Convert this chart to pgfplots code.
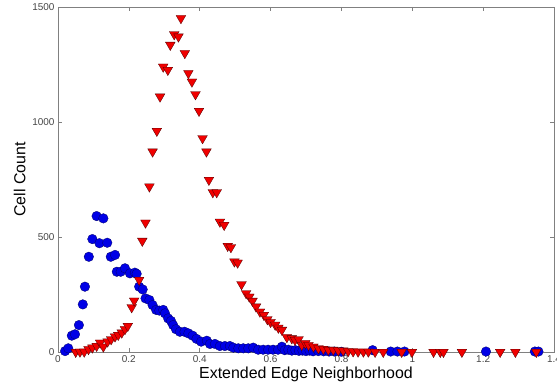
\documentclass[border=0pt]{standalone}
\usepackage{pgfplots}
\pgfplotsset{compat=1.18}
\usepackage{fontspec}
\setmainfont{Liberation Sans}
\definecolor{axgray}{RGB}{128,128,128}
\definecolor{ticktext}{RGB}{70,70,70}
\begin{document}
\begin{tikzpicture}
\begin{axis}[
  scale only axis,
  width=496bp, height=345bp,
  xmin=0, xmax=1.4, ymin=0, ymax=1500,
  xtick={0,0.2,0.4,0.6,0.8,1,1.2,1.4},
  ytick={0,500,1000,1500},
  axis line style={axgray, line width=0.6pt},
  every tick/.style={axgray, line width=0.6pt},
  tick align=inside,
  major tick length=4bp,
  tick label style={font=\fontsize{10}{12}\selectfont, text=ticktext},
  /pgf/number format/assume math mode=true,
  /pgf/number format/1000 sep={},
  xlabel={Extended Edge Neighborhood},
  ylabel={Cell Count},
  label style={font=\fontsize{16}{18}\selectfont},
  xlabel style={yshift=2bp},
  ylabel style={yshift=0bp},
  clip=false,
]
\addplot[only marks, mark=*, mark size=4.8bp, mark options={fill={rgb,255:red,0;green,0;blue,230}, draw=black!60!blue, line width=0.3pt}] coordinates {
(0.020,4) (0.029,16) (0.039,71) (0.048,77) (0.059,117) (0.070,207) (0.076,284)
(0.087,414) (0.097,491) (0.109,591) (0.117,473) (0.128,581) (0.139,475)
(0.149,414) (0.161,422) (0.166,349) (0.177,349) (0.189,364) (0.203,342)
(0.217,345) (0.222,340) (0.229,284) (0.239,272) (0.247,233) (0.258,226) (0.267,204)
(0.277,183) (0.286,180) (0.297,183) (0.302,168) (0.311,146) (0.319,135)
(0.325,117) (0.333,99) (0.344,88) (0.357,88) (0.368,81) (0.380,71)
(0.391,57) (0.404,45) (0.420,49) (0.429,35) (0.443,35) (0.457,26)
(0.471,26) (0.485,26) (0.495,19) (0.509,16) (0.523,16) (0.537,16)
(0.551,19) (0.565,10) (0.579,10) (0.593,10) (0.607,10) (0.621,10)
(0.632,23) (0.640,8) (0.650,10) (0.660,6) (0.670,8) (0.680,5) (0.690,6)
(0.700,4) (0.710,6) (0.720,3) (0.735,4) (0.750,3) (0.765,2) (0.780,2)
(0.800,1) (0.888,8) (0.939,2) (0.958,2) (0.978,2) (1.208,2) (1.346,2) (1.356,2)
};
\addplot[only marks, mark=triangle*, mark size=5.6bp, mark options={rotate=180, fill={rgb,255:red,240;green,0;blue,0}, draw=black!70!red, line width=0.3pt}] coordinates {
(0.050,0) (0.062,1) (0.074,1) (0.086,12) (0.097,19) (0.109,26) (0.119,40)
(0.128,23) (0.140,45) (0.150,55) (0.161,67) (0.170,74) (0.180,84) (0.189,99)
(0.197,113) (0.208,194) (0.215,223) (0.229,313) (0.238,483) (0.247,562)
(0.258,719) (0.267,871) (0.279,961) (0.288,1110) (0.297,1240) (0.310,1226)
(0.317,1335) (0.328,1381) (0.340,1371) (0.347,1451) (0.358,1299) (0.368,1212)
(0.378,1175) (0.388,1120) (0.398,1048) (0.408,929) (0.419,871) (0.426,748)
(0.437,694) (0.448,694) (0.457,566) (0.469,552) (0.479,461) (0.488,455)
(0.498,393) (0.507,388) (0.518,294) (0.531,255) (0.540,240) (0.549,222)
(0.559,197) (0.570,175) (0.581,161) (0.591,142) (0.600,130) (0.613,118)
(0.622,105) (0.632,96) (0.646,64) (0.660,59) (0.669,52) (0.679,55)
(0.688,30) (0.698,38) (0.707,30) (0.721,23) (0.735,16) (0.749,13)
(0.763,9) (0.777,9) (0.791,6) (0.805,6) (0.819,3) (0.833,2) (0.847,1)
(0.862,1) (0.876,1) (0.895,0) (0.918,0) (0.970,0) (0.999,0) (1.060,0)
(1.079,0) (1.088,0) (1.140,0) (1.248,0) (1.291,0) (1.350,0)
};
\end{axis}
\pgfresetboundingbox
\path[use as bounding box] (-58bp,-37bp) rectangle (499bp,352bp);
\end{tikzpicture}
\end{document}
